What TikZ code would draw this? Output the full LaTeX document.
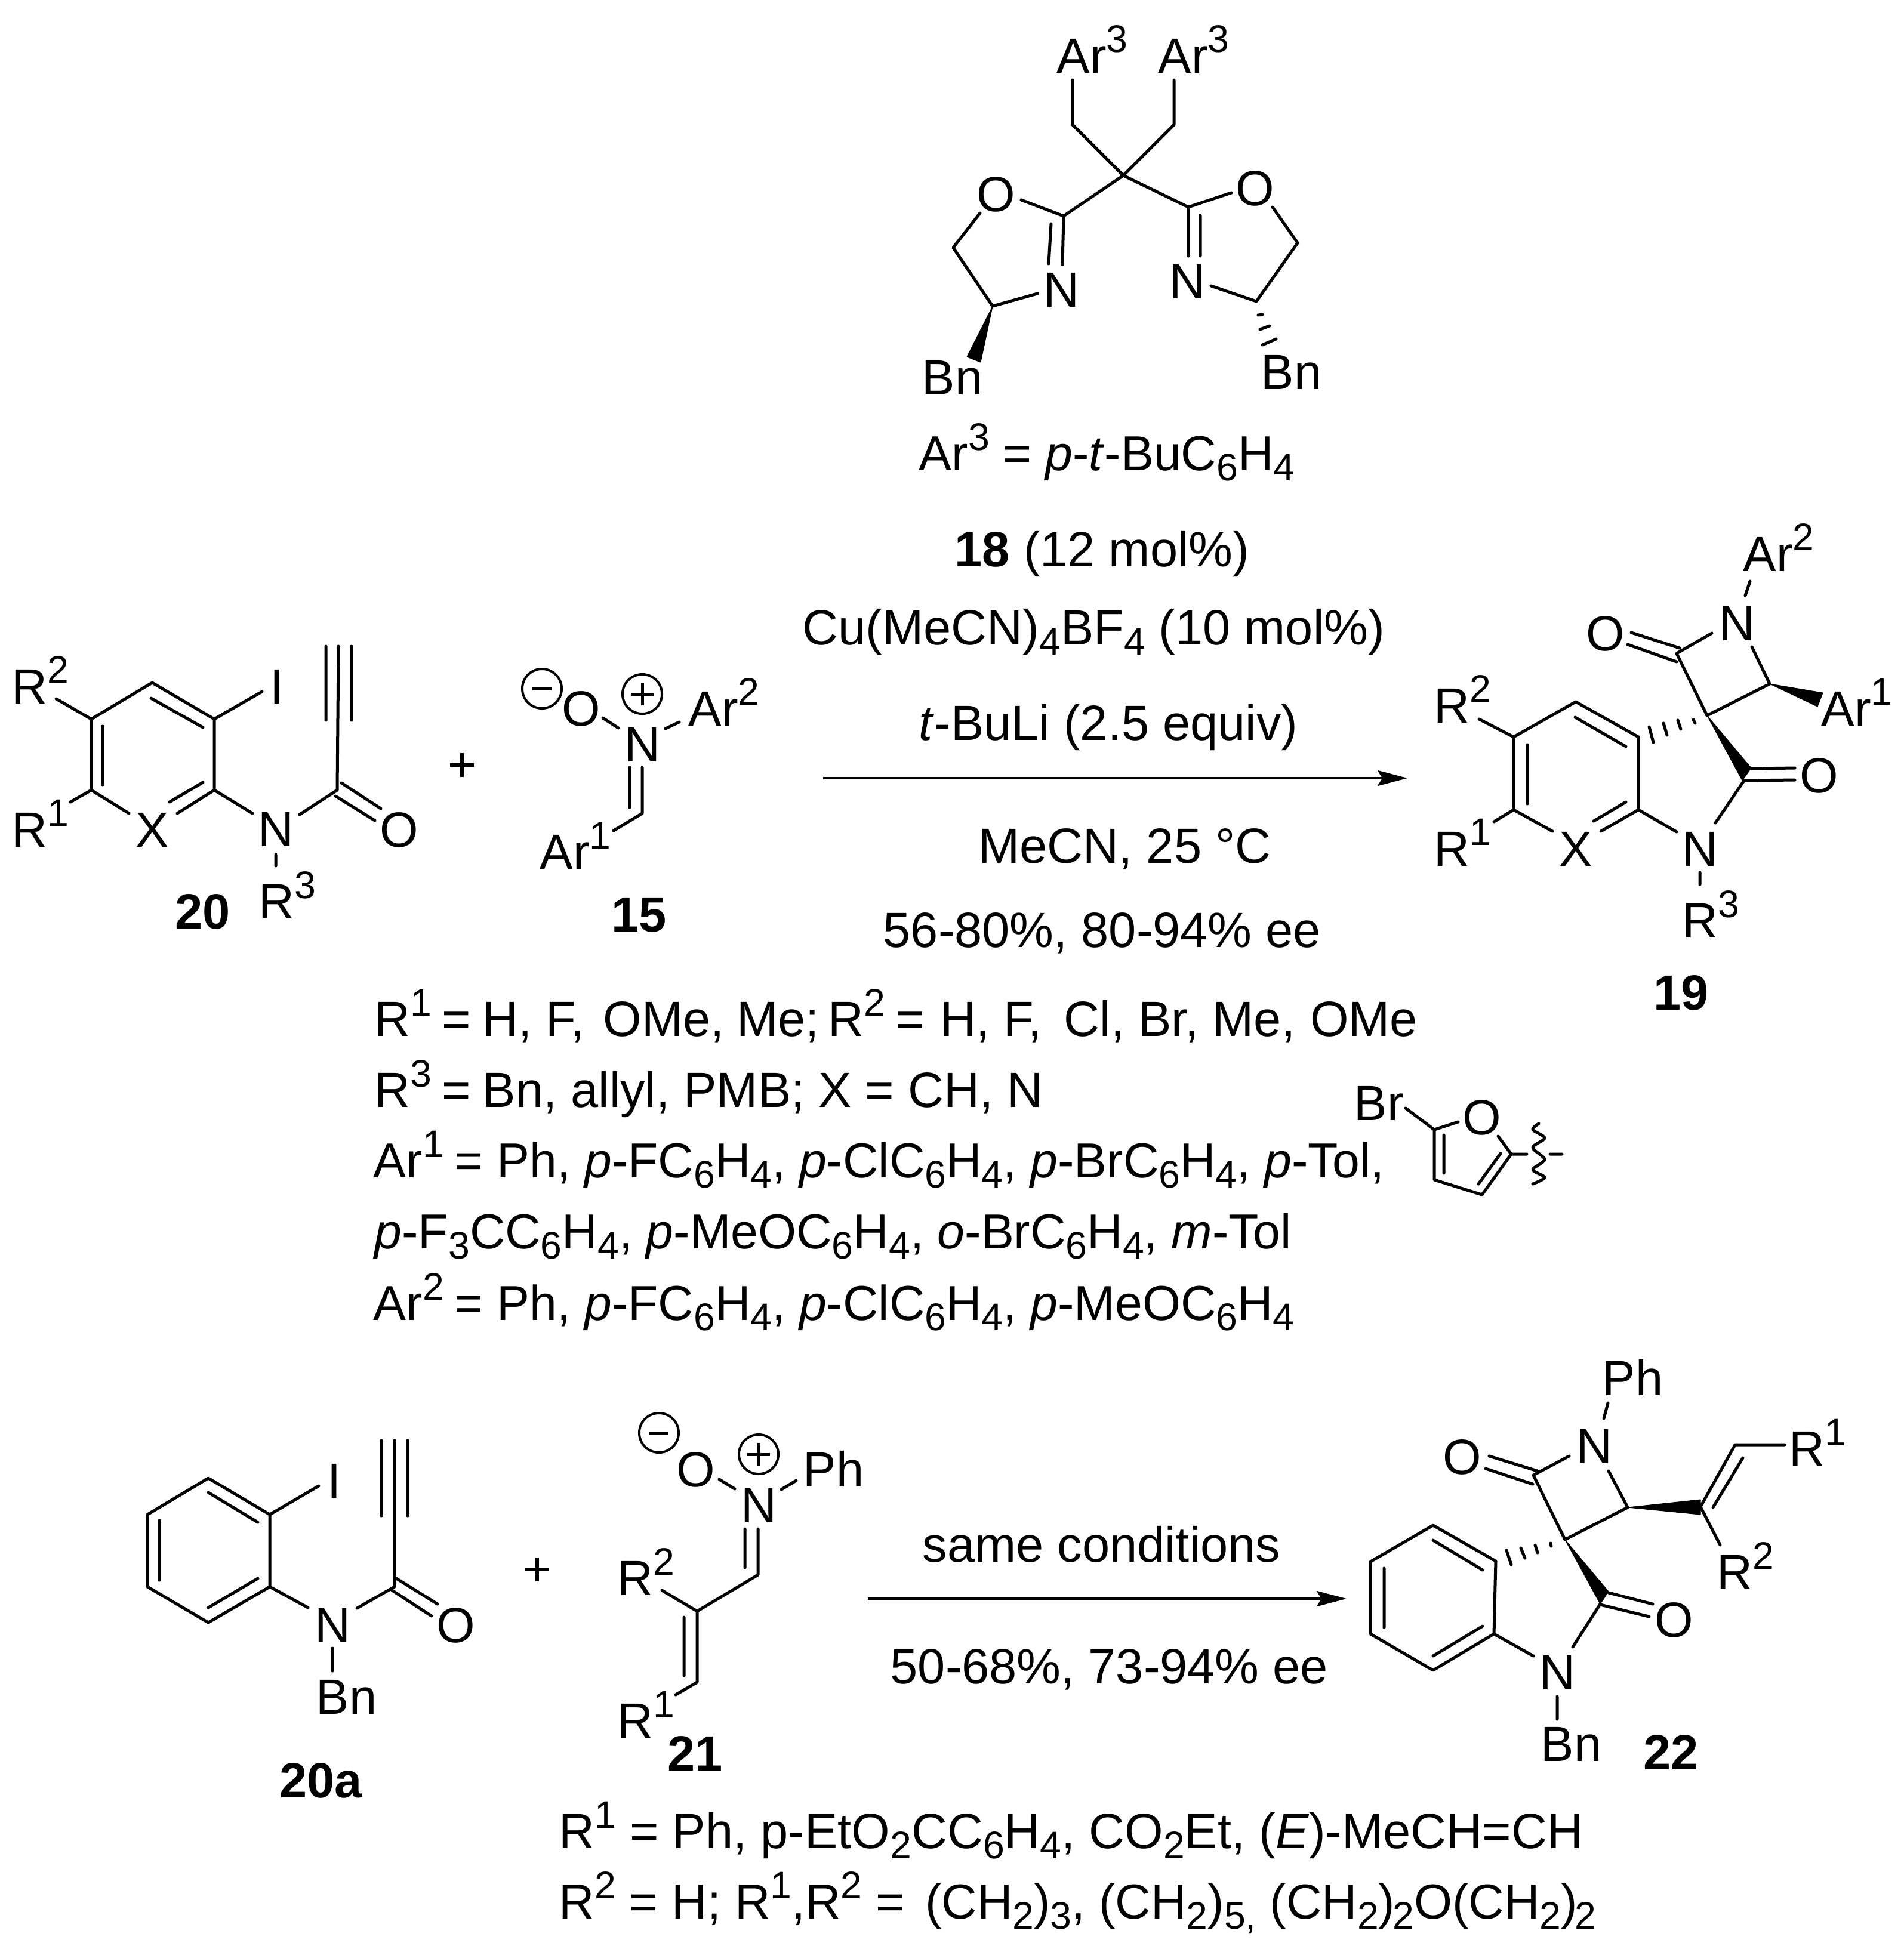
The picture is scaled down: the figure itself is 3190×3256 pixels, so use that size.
\documentclass[tikz,border=0pt]{standalone}
\usepackage{fontspec}
\setmainfont{Liberation Sans}
\usetikzlibrary{arrows.meta}
\newcommand\up[1]{\raisebox{0.41em}{\fontsize{18.3}{18.3}\selectfont #1}}
\newcommand\dn[1]{\raisebox{-0.21em}{\fontsize{18.3}{18.3}\selectfont #1}}
\newcommand\eqt{\hspace{0.17cm}=\hspace{0.20cm}}
\tikzset{
  bond/.style={line width=0.05cm,line cap=round,line join=round},
  wedgefill/.style={fill=black,draw=black,line width=0.01cm,line join=round},
  txt/.style={anchor=base west,inner sep=0pt,font=\fontsize{23.6}{28}\selectfont},
  txs/.style={txt,font=\fontsize{23.42}{28}\selectfont},
  lab/.style={txt,xshift=-0.06cm},
  atom/.style={anchor=base,inner sep=0pt,font=\fontsize{23.6}{28}\selectfont},
  num/.style={anchor=base west,inner sep=0pt,xshift=-0.04cm,font=\fontsize{23.6}{28}\selectfont\bfseries},
  chg/.style={circle,draw,line width=0.04cm,minimum size=0.66cm,inner sep=0pt},
  chgl/.style={line width=0.05cm},
  rxn/.style={line width=0.035cm,-{Stealth[length=0.5cm,width=0.26cm,inset=0.08cm]}},
  plusl/.style={line width=0.06cm}
}
\begin{document}
\begin{tikzpicture}[x=0.01cm,y=-0.01cm]
\useasboundingbox (0,0) rectangle (3190,3256);
% ---------- named points
\foreach \n/\x/\y in {
 Lc/1882/294,La/1797/209,Lb/1797/134,Ld/1967/209,Le/1967/134,Lf/1782/362,Lg/1711/335,Lh/1642/357,Li/1597/415,Lj/1663/513,Lk/1738/492,Ll/1780/443,Lm/1761/375,Ln/1757/442,Lo/1620/598,Lp/1643/607,
 Rf/1991/347,Rg/2063/323,Rh/2132/347,Ri/2174/407,Rj/2105/505,Rk/2029/479,Rl/1991/429,Rm/2011/361,Rn/2011/429,
 Aa/153/1205,Ab/255/1144,Ac/359/1205,Ad/359/1324,Ae/153/1324,Af/94/1171,Ag/439/1159,Ah/118/1344,Ai/216/1363,Aj/297/1363,Ak/340/1311,Al/284/1344,Am/172/1217,An/172/1315,Ao/253/1170,Ap/340/1219,Aq/423/1363,Ar/502/1365,As/565/1324,At/562/1334,Au/628/1375,Av/572/1312,Aw/638/1355,Ax/567/1083,Ay/546/1083,Az/546/1207,AA/589/1083,AB/589/1207,AC/462/1432,AD/462/1451,
 Ba/1010/1203,Bb/1036/1220,Bc/1115/1221,Bd/1138/1210,Be/1076/1286,Bf/1076/1363,Bg/1055/1286,Bh/1055/1353,Bi/1028/1392,
 Pa/2536/1235,Pb/2640/1176,Pc/2745/1235,Pd/2745/1357,Pe/2536/1357,Pf/2478/1205,Pg/2503/1377,Ph/2559/1248,Pi/2559/1347,Pj/2639/1202,Pk/2724/1251,Pl/2601/1393,Pm/2682/1393,Pn/2724/1344,Po/2670/1376,Pp/2809/1394,Pq/2874/1379,Pr/2922/1308,Ps/2860/1199,Pt/2934/1287,Pu/2919/1308,Pv/3007/1307,Pw/2934/1288,Px/3007/1287,Py/2809/1095,Pz/2868/1061,PA/2814/1086,PB/2733/1060,PC/2809/1109,PD/2727/1080,PE/2924/998,PF/2932/974,PG/2935/1084,PH/2965/1146,PI/3054/1161,PJ/3045/1184,PK/2848/1462,PL/2848/1482,
 Fa/2355/1857,Fb/2403/1893,Fc/2443/1880,Fd/2510/1904,Fe/2532/1934,Ff/2483/2002,Fg/2403/1977,Fh/2419/1902,Fi/2419/1966,Fj/2514/1933,Fk/2477/1984,Fl/2558/1934,Fm/2597/1934,Fn/2617/1934,
 Ca/349/2477,Cb/452/2538,Cc/452/2659,Cd/349/2719,Ce/247/2659,Cf/247/2538,Cg/349/2501,Ch/432/2551,Ci/432/2645,Cj/349/2694,Ck/267/2548,Cl/267/2648,Cm/534/2490,Cn/516/2694,Co/598/2695,Cp/661/2659,Cq/661/2414,Cr/639/2414,Cs/639/2540,Ct/683/2414,Cu/683/2540,Cv/657/2665,Cw/723/2708,Cx/664/2645,Cy/733/2688,Cz/557/2762,CA/557/2800,
 Da/1205/2479,Db/1231/2495,Dc/1309/2496,Dd/1334/2481,De/1270/2562,Df/1270/2639,Dg/1248/2562,Dh/1248/2627,Di/1168/2700,Dj/1109/2665,Dk/1168/2819,Dl/1146/2710,Dm/1146/2808,Dn/1132/2840,
 Qa/2401/2556,Qb/2506/2616,Qc/2503/2738,Qd/2401/2799,Qe/2296/2738,Qf/2296/2617,Qg/2401/2581,Qh/2484/2631,Qi/2484/2725,Qj/2401/2775,Qk/2319/2628,Ql/2319/2727,Qm/2569/2775,Qn/2635/2760,Qo/2681/2688,Qp/2622/2580,Qq/2695/2667,Qr/2695/2669,Qs/2769/2688,Qt/2681/2689,Qu/2763/2709,Qv/2569/2472,Qw/2727/2526,Qx/2629/2440,Qy/2576/2465,Qz/2495/2440,QA/2568/2487,QB/2489/2461,QC/2687/2377,QD/2694/2351,QE/2695/2465,QF/2849/2513,QG/2849/2538,QH/2849/2525,QI/2907/2421,QJ/2870/2526,QK/2920/2443,QL/2990/2421,QM/2882/2589,QN/2609/2843,QO/2609/2881,
 Xa/1379/1304,Xb/2358/1304,Ya/1454/2679,Yb/2256/2679}
 {\coordinate (\n) at (\x,\y);}
% ---------- ligand 18
\node[txt] (l1) at (1770,122) {Ar\up{3}};
\node[txt] (l2) at (1940,122) {Ar\up{3}};
\node[atom] (lO) at (1669,354) {O};
\node[atom] (lN) at (1778,514) {N};
\node[atom] (rO) at (2103,344) {O};
\node[atom] (rN) at (1989,500) {N};
\node[lab] (lB) at (1550,661) {Bn};
\node[lab] (rB) at (2118,652) {Bn};
\draw[bond] (Lb)--(La)--(Lc)--(Ld)--(Le);
\draw[bond] (Lc)--(Lf)--(Lg) (Lf)--(Ll) (Lm)--(Ln) (Lh)--(Li)--(Lj)--(Lk);
\draw[bond] (Lc)--(Rf)--(Rg) (Rf)--(Rl) (Rm)--(Rn) (Rh)--(Ri)--(Rj)--(Rk);
\fill[wedgefill] (Lj)--(Lo)--(Lp)--cycle;
\foreach \a/\b/\c/\d in {2108/528/2115/527,2111/552/2127/546,2115/578/2138/568}
 {\draw[bond] (\a,\b)--(\c,\d);}
\node[txs] (t18) at (1539,788) {Ar\up{3} = \textit{p}-\textit{t}-BuC\dn{6}H\dn{4}};
% ---------- conditions
\node[txt] (c1) at (1599,949) {\textbf{18} (12 mol\%)};
\node[txt] (c2) at (1344,1080) {Cu(MeCN)\dn{4}BF\dn{4} (10 mol\%)};
\node[txt] (c3) at (1539,1240) {\textit{t}-BuLi (2.5 equiv)};
\node[txt] (c4) at (1639,1446) {MeCN, 25 °C};
\node[txt] (c5) at (1479,1587) {56-80\%, 80-94\% ee};
\draw[rxn] (Xa)--(Xb);
% ---------- 20
\node[lab] (a1) at (25,1179) {R\up{2}};
\node[lab] (a2) at (25,1419) {R\up{1}};
\node[atom] (aX) at (255,1419) {X};
\node[lab] (aI) at (458,1179) {I};
\node[atom] (aN) at (462,1418) {N};
\node[atom] (aO) at (669,1419) {O};
\node[lab] (a3) at (439,1539) {R\up{3}};
\node[num] (n20) at (297,1556) {20};
\draw[bond] (Af)--(Aa)--(Ab)--(Ac)--(Ag) (Aa)--(Ae)--(Ai) (Ac)--(Ad)--(Aj) (Ae)--(Ah) (Ad)--(Aq);
\draw[bond] (Ak)--(Al) (Am)--(An) (Ao)--(Ap) (Ar)--(As)--(Ax) (At)--(Au) (Av)--(Aw) (Ay)--(Az) (AA)--(AB) (AC)--(AD);
\draw[plusl] (754,1282)--(794,1282) (774,1262)--(774,1302);
% ---------- 15
\node[chg] (m1) at (908,1154) {};
\node[chg] (p1) at (1076,1163) {};
\draw[chgl] ([xshift=-.16cm]m1.center)--([xshift=.16cm]m1.center);
\draw[chgl] ([xshift=-.19cm]p1.center)--([xshift=.19cm]p1.center) ([yshift=-.19cm]p1.center)--([yshift=.19cm]p1.center);
\node[atom] (bO) at (974,1216) {O};
\node[atom] (bN) at (1076,1276) {N};
\node[txt] (b1) at (1153,1216) {Ar\up{2}};
\node[txt] (b2) at (904,1456) {Ar\up{1}};
\node[num] (n15) at (1028,1561) {15};
\draw[bond] (Ba)--(Bb) (Bc)--(Bd) (Be)--(Bf)--(Bi) (Bg)--(Bh);
% ---------- 19
\node[lab] (p2) at (2408,1211) {R\up{2}};
\node[lab] (p3) at (2408,1451) {R\up{1}};
\node[atom] (pX) at (2640,1451) {X};
\node[atom] (pN) at (2848,1451) {N};
\node[atom] (pM) at (2910,1073) {N};
\node[atom] (pO) at (2690,1090) {O};
\node[atom] (pU) at (3048,1328) {O};
\node[txt] (p4) at (2920,957) {Ar\up{2}};
\node[txt] (p5) at (3051,1216) {Ar\up{1}};
\node[lab] (p6) at (2824,1571) {R\up{3}};
\node[num] (n19) at (2774,1692) {19};
\draw[bond] (Pf)--(Pa)--(Pb)--(Pc)--(Pd)--(Pm) (Pa)--(Pe)--(Pl) (Pe)--(Pg) (Ph)--(Pi) (Pj)--(Pk) (Pn)--(Po) (Pd)--(Pp) (Pq)--(Pr)--(Pv) (Pw)--(Px);
\draw[bond] (Ps)--(Py)--(Pz) (PA)--(PB) (PC)--(PD) (PE)--(PF) (PG)--(PH)--(Ps) (PK)--(PL);
\fill[wedgefill] (Ps)--(Pt)--(Pu)--cycle;
\fill[wedgefill] (PH)--(PI)--(PJ)--cycle;
\foreach \a/\b/\c/\d in {2837/1206/2840/1212,2811/1207/2816/1222,2787/1212/2793/1232,2763/1218/2770/1244}
 {\draw[bond] (\a,\b)--(\c,\d);}
% ---------- text block 1
\node[txt] (r1) at (627,1736) {R\up{1}\eqt H, F,\hspace{0.08cm} OMe,\hspace{-0.02cm} Me;\hspace{0.15cm}R\up{2}\eqt\hspace{0.06cm}H, F,\hspace{0.14cm} Cl, Br, Me,\hspace{0.02cm} OMe};
\node[txt] (r2) at (627,1855) {R\up{3}\eqt Bn, allyl, PMB; X = CH, N};
\node[txs] (r3) at (625,1973) {Ar\up{1}\hspace{0.18cm}= Ph, \textit{p}-FC\dn{6}H\dn{4}, \textit{p}-ClC\dn{6}H\dn{4}, \textit{p}-BrC\dn{6}H\dn{4}, \textit{p}-Tol,};
\node[txs] (r4) at (627,2092) {\textit{p}-F\dn{3}CC\dn{6}H\dn{4}, \textit{p}-MeOC\dn{6}H\dn{4}, \textit{o}-BrC\dn{6}H\dn{4}, \textit{m}-Tol};
\node[txs] (r5) at (625,2212) {Ar\up{2}\hspace{0.18cm}= Ph, \textit{p}-FC\dn{6}H\dn{4}, \textit{p}-ClC\dn{6}H\dn{4}, \textit{p}-MeOC\dn{6}H\dn{4}};
% ---------- furan
\node[lab] (fB) at (2274,1877) {Br};
\node[atom] (fO) at (2483,1901) {O};
\draw[bond] (Fa)--(Fb)--(Fc) (Fd)--(Fe)--(Ff)--(Fg)--(Fb) (Fh)--(Fi) (Fj)--(Fk) (Fe)--(Fl) (Fm)--(Fn);
\draw[bond] plot[smooth] coordinates {(2578,1883) (2568,1893) (2588,1907) (2568,1923) (2588,1943) (2568,1960) (2588,1973) (2568,1984)};
% ---------- 20a
\node[lab] (cI) at (554,2510) {I};
\node[atom] (cN) at (557,2752) {N};
\node[atom] (cO) at (764,2752) {O};
\node[lab] (cB) at (535,2872) {Bn};
\node[num] (n20a) at (472,3012) {20a};
\draw[bond] (Ca)--(Cb)--(Cc)--(Cd)--(Ce)--(Cf)--cycle (Cg)--(Ch) (Ci)--(Cj) (Ck)--(Cl) (Cb)--(Cm) (Cc)--(Cn) (Co)--(Cp)--(Cq) (Cr)--(Cs) (Ct)--(Cu) (Cv)--(Cw) (Cx)--(Cy) (Cz)--(CA);
\draw[plusl] (880,2630)--(920,2630) (900,2610)--(900,2650);
% ---------- 21
\node[chg] (m2) at (1104,2401) {};
\node[chg] (p2c) at (1271,2437) {};
\draw[chgl] ([xshift=-.16cm]m2.center)--([xshift=.16cm]m2.center);
\draw[chgl] ([xshift=-.19cm]p2c.center)--([xshift=.19cm]p2c.center) ([yshift=-.19cm]p2c.center)--([yshift=.19cm]p2c.center);
\node[atom] (dO) at (1166,2491) {O};
\node[atom] (dN) at (1271,2551) {N};
\node[lab] (dP) at (1351,2491) {Ph};
\node[lab] (d1) at (1040,2673) {R\up{2}};
\node[lab] (d2) at (1040,2912) {R\up{1}};
\node[num] (n21) at (1122,2967) {21};
\draw[bond] (Da)--(Db) (Dc)--(Dd) (De)--(Df)--(Di)--(Dk)--(Dn) (Dg)--(Dh) (Di)--(Dj) (Dl)--(Dm);
% ---------- bottom conditions
\node[txt] (s1) at (1545,2617) {same conditions};
\node[txt] (s2) at (1491,2821) {50-68\%, 73-94\% ee};
\draw[rxn] (Ya)--(Yb);
% ---------- 22
\node[atom] (qN) at (2609,2831) {N};
\node[atom] (qO) at (2805,2743) {O};
\node[atom] (qM) at (2671,2452) {N};
\node[atom] (qU) at (2450,2470) {O};
\node[lab] (qP) at (2690,2338) {Ph};
\node[lab] (q1) at (3003,2456) {R\up{1}};
\node[lab] (q2) at (2882,2663) {R\up{2}};
\node[lab] (qB) at (2587,2951) {Bn};
\node[num] (n22) at (2757,2965) {22};
\draw[bond] (Qc)--(Qb)--(Qa)--(Qf)--(Qe)--(Qd)--cycle (Qg)--(Qh) (Qi)--(Qj) (Qk)--(Ql) (Qc)--(Qm) (Qn)--(Qo) (Qr)--(Qs) (Qt)--(Qu);
\draw[bond] (Qp)--(Qv)--(Qx) (Qy)--(Qz) (QA)--(QB) (QC)--(QD) (QE)--(Qw)--(Qp) (QH)--(QI)--(QL) (QJ)--(QK) (QH)--(QM) (QN)--(QO);
\fill[wedgefill] (Qp)--(Qq)--(Qo)--cycle;
\fill[wedgefill] (Qw)--(QF)--(QG)--cycle;
\foreach \a/\b/\c/\d in {2598/2586/2599/2591,2572/2589/2576/2602,2548/2594/2555/2611,2524/2598/2532/2622}
 {\draw[bond] (\a,\b)--(\c,\d);}
% ---------- text block 2
\node[txt] (u1) at (936,3097) {R\up{1} = Ph, p-EtO\dn{2}CC\dn{6}H\dn{4}, CO\dn{2}Et, (\textit{E})-MeCH=CH};
\node[txs] (u2) at (936,3215) {R\up{2} = H; R\up{1},R\up{2} = \hspace{0.12cm}(CH\dn{2})\dn{3}, (CH\dn{2})\dn{5,} (CH\dn{2})\hspace{-0.04cm}\dn{2}O(CH\dn{2})\hspace{-0.04cm}\dn{2}};
\end{tikzpicture}
\end{document}
